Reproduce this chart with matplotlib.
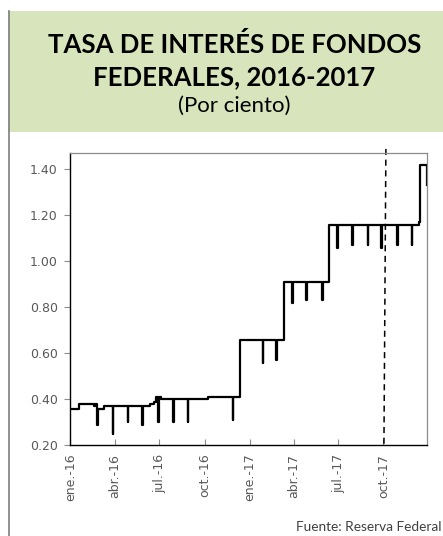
import datetime as dt
import matplotlib
matplotlib.use("Agg")
import matplotlib.pyplot as plt
from matplotlib.patches import Rectangle
from matplotlib.lines import Line2D

# tasa de fondos federales (puntos de cambio)
fechas = [
    "2016-01-01", "2016-01-18", "2016-02-19", "2016-02-20", "2016-02-25", "2016-02-26",
    "2016-03-10", "2016-03-28", "2016-03-29", "2016-04-27", "2016-04-28",
    "2016-05-27", "2016-05-28", "2016-06-11", "2016-06-20", "2016-06-23",
    "2016-06-28", "2016-06-29", "2016-07-04", "2016-07-29", "2016-07-30",
    "2016-08-28", "2016-08-29", "2016-10-07", "2016-11-27", "2016-11-28",
    "2016-12-12", "2017-01-28", "2017-01-29", "2017-02-24", "2017-02-25",
    "2017-03-13", "2017-03-29", "2017-03-30", "2017-04-26", "2017-04-27",
    "2017-05-29", "2017-05-30", "2017-06-11", "2017-06-29", "2017-07-01",
    "2017-07-29", "2017-07-30", "2017-08-30", "2017-08-31", "2017-09-27",
    "2017-09-28", "2017-10-29", "2017-10-30", "2017-11-28", "2017-11-29",
    "2017-12-12", "2017-12-14", "2017-12-29",
]
tasa = [
    0.36, 0.38, 0.37, 0.38, 0.29, 0.36,
    0.37, 0.25, 0.37, 0.30, 0.37,
    0.29, 0.37, 0.38, 0.39, 0.41,
    0.30, 0.41, 0.40, 0.30, 0.40,
    0.30, 0.40, 0.41, 0.31, 0.41,
    0.66, 0.56, 0.66, 0.57, 0.66,
    0.91, 0.82, 0.91, 0.83, 0.91,
    0.83, 0.91, 1.16, 1.06, 1.16,
    1.07, 1.16, 1.07, 1.16, 1.06,
    1.16, 1.07, 1.16, 1.07, 1.16,
    1.17, 1.42, 1.33,
]
fechas = [dt.datetime.strptime(f, "%Y-%m-%d") for f in fechas]

meses = ["ene.-16", "abr.-16", "jul.-16", "oct.-16", "ene.-17", "abr.-17", "jul.-17", "oct.-17"]
tick_fechas = [dt.datetime(2016, 1, 1), dt.datetime(2016, 4, 1), dt.datetime(2016, 7, 1),
               dt.datetime(2016, 10, 1), dt.datetime(2017, 1, 1), dt.datetime(2017, 4, 1),
               dt.datetime(2017, 7, 1), dt.datetime(2017, 10, 1)]
yticks = [0.20, 0.40, 0.60, 0.80, 1.00, 1.20, 1.40]

fig = plt.figure(figsize=(4.43, 5.36), dpi=100)

# encabezado verde y borde izquierdo
fig.patches.append(Rectangle((8 / 443, 0.7532), 1, 0.2263, transform=fig.transFigure,
                             facecolor="#D8E4BC", edgecolor="none", zorder=0))
fig.lines.append(Line2D([8.5 / 443, 8.5 / 443], [0, 1 - 11 / 536], transform=fig.transFigure,
                        color="#7F7F7F", lw=1.2))

fig.text(0.529, 0.9006, "TASA DE INTERÉS DE FONDOS", ha="center", va="baseline",
         fontsize=18.5, fontweight="bold", family="Lato", color="black")
fig.text(0.529, 0.8414, "FEDERALES, 2016-2017", ha="center", va="baseline",
         fontsize=18.5, fontweight="bold", family="Lato", color="black")
fig.text(0.529, 0.7905, "(Por ciento)", ha="center", va="baseline",
         fontsize=16, family="Lato", color="black")

ax = fig.add_axes([70.3 / 443, 90.7 / 536, 357 / 443, 292 / 536])
ax.plot(fechas, tasa, drawstyle="steps-post", color="black", lw=1.6)

# linea punteada vertical (oct.-17)
ax.plot([dt.datetime(2017, 10, 6), dt.datetime(2017, 10, 2)], [1.015, 0.0],
        transform=ax.get_xaxis_transform(), color="black", lw=1.1,
        linestyle=(0, (4, 3)), clip_on=False)

ax.set_xlim(dt.datetime(2016, 1, 1), dt.datetime(2017, 12, 29, 12))
ax.set_ylim(0.20, 1.47)
ax.set_yticks(yticks)
ax.set_yticklabels(["%.2f" % v for v in yticks])
ax.set_xticks(tick_fechas)
ax.set_xticklabels(meses, rotation=90)

for s in ["top", "right"]:
    ax.spines[s].set_color("#8C8C8C")
    ax.spines[s].set_linewidth(0.9)
for s in ["left", "bottom"]:
    ax.spines[s].set_color("black")
    ax.spines[s].set_linewidth(1.0)

ax.tick_params(axis="y", direction="out", length=4, width=0.8, color="#8C8C8C",
               labelsize=9, labelcolor="#595959", pad=5)
ax.tick_params(axis="x", direction="in", length=4, width=0.8, color="#8C8C8C",
               labelsize=9, labelcolor="#595959", pad=6)

fig.text(0.9966, 0.0084, "Fuente: Reserva Federal", ha="right", va="baseline",
         fontsize=9.8, family="Lato", color="#404040")

fig.savefig("out.png", dpi=100)
